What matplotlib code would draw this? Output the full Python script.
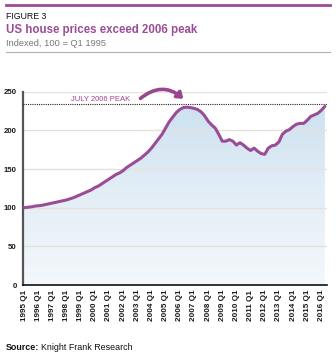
import numpy as np
import matplotlib
matplotlib.use("Agg")
import matplotlib.pyplot as plt
from matplotlib.patches import FancyArrowPatch
from matplotlib.lines import Line2D
from matplotlib.colors import LinearSegmentedColormap

plt.rcParams['font.family'] = ['Liberation Sans', 'DejaVu Sans']

# ---- data ----
years = list(range(1995, 2017))
tick_labels = [f"{y} Q1" for y in years]
values = [
    100, 100.5, 101, 102,      # 1995
    102.5, 103, 104, 105,      # 1996
    106, 107, 108, 109,        # 1997
    110, 111.5, 113, 115,      # 1998
    117, 119, 121, 123,        # 1999
    126, 128, 131, 134,        # 2000
    137, 140, 143, 145,        # 2001
    148, 152, 155, 158,        # 2002
    161, 164, 168, 172,        # 2003
    177, 183, 189, 195,        # 2004
    203, 211, 217, 223,        # 2005
    227, 229.5, 230, 229.5,    # 2006
    228.5, 227, 224, 219,      # 2007
    212, 207, 203, 195,        # 2008
    186, 186, 188, 186,        # 2009
    181, 184, 181, 177,        # 2010
    174, 177, 173, 170,        # 2011
    169, 177, 180, 181,        # 2012
    185, 195, 199, 201,        # 2013
    205, 208, 209, 209,        # 2014
    213, 218, 220, 222,        # 2015
    226, 231,                  # 2016
]
peak_level = 234
peak_label = "JULY 2006 PEAK"
yticks = [0, 50, 100, 150, 200, 250]

PURPLE = "#9a4c97"

fig = plt.figure(figsize=(3.36, 3.57), dpi=100)
W, H = 336, 357

# header
fig.add_artist(Line2D([6/W, 330/W], [1-5/H, 1-5/H], color=PURPLE, lw=2.0))
fig.text(6/W, 1-16.5/H, "FIGURE 3", fontsize=6.3, color="#111111", va="center", ha="left")
fig.text(6/W, 1-30.5/H, "US house prices exceed 2006 peak", fontsize=8.3, fontweight="bold",
         color=PURPLE, va="center", ha="left")
fig.text(6/W, 1-43.5/H, "Indexed, 100 = Q1 1995", fontsize=6.7, color="#777777", va="center", ha="left")
fig.add_artist(Line2D([6/W, 330/W], [1-52/H, 1-52/H], color="#b5b0b0", lw=0.8))

ax = fig.add_axes([23/W, 1-285/H, (327-23)/W, (285-91.7)/H])
x = np.arange(len(values))
ax.set_xlim(-0.3, 85.6)
ax.set_ylim(0, 250)

# gradient fill under curve
grad = np.linspace(0, 1, 256).reshape(-1, 1)
cmap = LinearSegmentedColormap.from_list("g", ["#f3f8fc", "#e2edf6", "#c9dfee"])
im = ax.imshow(grad, extent=[-0.3, 85.6, 0, 250], origin="lower", aspect="auto",
               cmap=cmap, zorder=1)
poly = ax.fill_between(x, 0, values, facecolor="none", edgecolor="none")
im.set_clip_path(poly.get_paths()[0], transform=ax.transData)

for yv in yticks[1:]:
    ax.axhline(yv, color="#e6e2d8", lw=1.0, zorder=2)

ax.plot(x, values, color=PURPLE, lw=2.2, zorder=4, solid_capstyle="round")

ax.axhline(peak_level, color="#222222", lw=0.8, ls=(0, (1, 1)), zorder=3)
ax.text(13.4, 240.5, peak_label, fontsize=5.5, color="#a0428e", ha="left", va="center", zorder=5)

arrow = FancyArrowPatch((32.3, 239.0), (45.6, 238.5), connectionstyle="arc3,rad=-0.45",
                        arrowstyle="-|>,head_length=3.2,head_width=2.4", color="#98478f",
                        lw=2.6, clip_on=False, zorder=6)
ax.add_patch(arrow)

ax.set_yticks(yticks)
ax.set_yticklabels([str(v) for v in yticks], fontsize=5.6, fontweight="bold", color="#1a1a1a")
ax.set_xticks([i*4 for i in range(len(years))])
ax.set_xticklabels(tick_labels, rotation=90, fontsize=5.9, fontweight="bold", color="#1a1a1a",
                   va="top", ha="center")
ax.tick_params(axis="both", length=0)
ax.tick_params(axis="y", pad=4.5)
ax.tick_params(axis="x", pad=3.5)

for s in ["top", "right"]:
    ax.spines[s].set_visible(False)
ax.spines["left"].set_color("#555555")
ax.spines["left"].set_linewidth(1.6)
ax.spines["bottom"].set_color("#111111")
ax.spines["bottom"].set_linewidth(1.2)
ax.set_facecolor("white")

src = fig.text(6/W, 1-350.5/H, "Source:", fontsize=6.4, fontweight="bold", color="#111111",
               va="baseline", ha="left")
fig.canvas.draw()
bb = src.get_window_extent()
fig.text(bb.x1/W + 1.5/W, 1-350.5/H, "Knight Frank Research", fontsize=6.4, color="#111111",
         va="baseline", ha="left")

fig.savefig("out.png", dpi=100)
